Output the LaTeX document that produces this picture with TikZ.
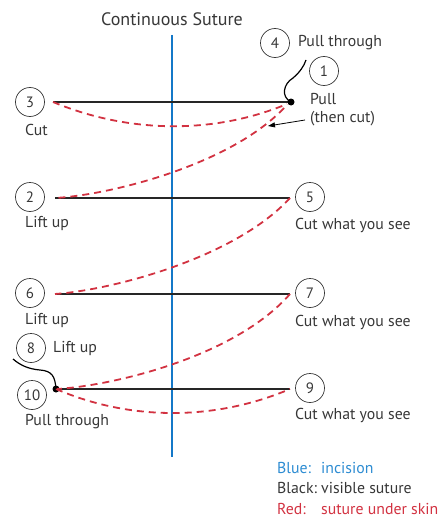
\documentclass[tikz,border=0pt]{standalone}
\usepackage{fontspec}
\setmainfont{PT Sans}
\usetikzlibrary{arrows.meta}
\definecolor{incblue}{RGB}{20,120,200}
\definecolor{legblue}{RGB}{45,140,210}
\definecolor{subred}{RGB}{210,50,65}
\definecolor{txtgray}{RGB}{55,55,55}
\begin{document}
\begin{tikzpicture}[x=1pt,y=-1pt,
  num/.style={draw=txtgray, line width=0.7pt, circle, minimum size=29pt, inner sep=0pt, font=\fontsize{15}{17}\selectfont, text=txtgray},
  lbl/.style={font=\fontsize{15.8}{18}\selectfont, text=txtgray, inner sep=0pt, anchor=west},
  under/.style={subred, line width=1.8pt, dash pattern=on 7pt off 5pt},
  visible/.style={black!85, line width=1.3pt},
  knot/.style={circle, fill=black, inner sep=0pt, minimum size=7pt},
  thread/.style={black, line width=1.2pt}]
\useasboundingbox (0,0) rectangle (444,519);
\node[lbl, anchor=center, font=\fontsize{18}{21}\selectfont] (title) at (172,19) {Continuous Suture};
\coordinate (top) at (172,35);
\coordinate (bot) at (172,457);
\draw[incblue, line width=1.5pt] (top) -- (bot);
\node[num] (n3) at (30,102) {3};
\node[num] (n4) at (275,43) {4};
\node[num] (n1) at (324,71) {1};
\node[num] (n2) at (30,197) {2};
\node[num] (n5) at (310,197) {5};
\node[num] (n6) at (30,293) {6};
\node[num] (n7) at (310,293) {7};
\node[num] (n8) at (31,348) {8};
\node[num] (n10) at (32,395) {10};
\node[num] (n9) at (310,388) {9};
\node[lbl] (cut3) at (25,130) {Cut};
\node[lbl] (pull4) at (298,43) {Pull through};
\node[lbl] (pull1) at (310,99) {Pull};
\node[lbl] (then1) at (310,119) {(then cut)};
\node[lbl] (lift2) at (25,223) {Lift up};
\node[lbl] (cut5) at (295,225) {Cut what you see};
\node[lbl] (lift6) at (25,320) {Lift up};
\node[lbl] (cut7) at (295,322) {Cut what you see};
\node[lbl] (lift8) at (53,348) {Lift up};
\node[lbl] (pull10) at (25,422) {Pull through};
\node[lbl] (cut9) at (295,415) {Cut what you see};
\coordinate (s3) at (53,102);
\coordinate (s1) at (287,104);
\coordinate (t1) at (284,108);
\coordinate (s2) at (55,198);
\coordinate (s5) at (290,198);
\coordinate (s6) at (55,294);
\coordinate (s7) at (290,294);
\coordinate (s9) at (290,389);
\coordinate (end4) at (306,60);
\coordinate (end8) at (13,359);
\coordinate (tail) at (305,120);
\coordinate (tip) at (268,126);
\draw[visible] (s3) -- (291,102) node[knot] (k1) {};
\draw[visible] (s2) -- (s5);
\draw[visible] (s6) -- (s7);
\draw[visible] (56,389) node[knot] (k10) {} -- (s9);
\draw[under] (s3) .. controls (130,134) and (215,134) .. (s1);
\draw[under] (t1) .. controls (230,165) and (110,195) .. (s2);
\draw[under] (s5) .. controls (235,258) and (112,290) .. (s6);
\draw[under] (s7) .. controls (235,357) and (112,386) .. (k10.center);
\draw[under] (k10.center) .. controls (130,421) and (215,421) .. (s9);
\draw[thread] (k1.center) .. controls (281,97) and (283,84) .. (293,78) .. controls (300,72) and (304,66) .. (end4);
\draw[thread] (k10.center) .. controls (55,376) and (52,371) .. (40,370) .. controls (28,369) and (20,365) .. (end8);
\draw[black, line width=0.8pt, -{Triangle[length=7pt,width=5pt]}] (tail) -- (tip);
\node[lbl, text=legblue] (kb) at (277,468) {Blue:};
\node[lbl, text=legblue] (vb) at (321,468) {incision};
\node[lbl] (kk) at (277,488) {Black:};
\node[lbl] (vk) at (321,488) {visible suture};
\node[lbl, text=subred] (kr) at (277,509) {Red:};
\node[lbl, text=subred] (vr) at (321,509) {suture under skin};
\end{tikzpicture}
\end{document}
